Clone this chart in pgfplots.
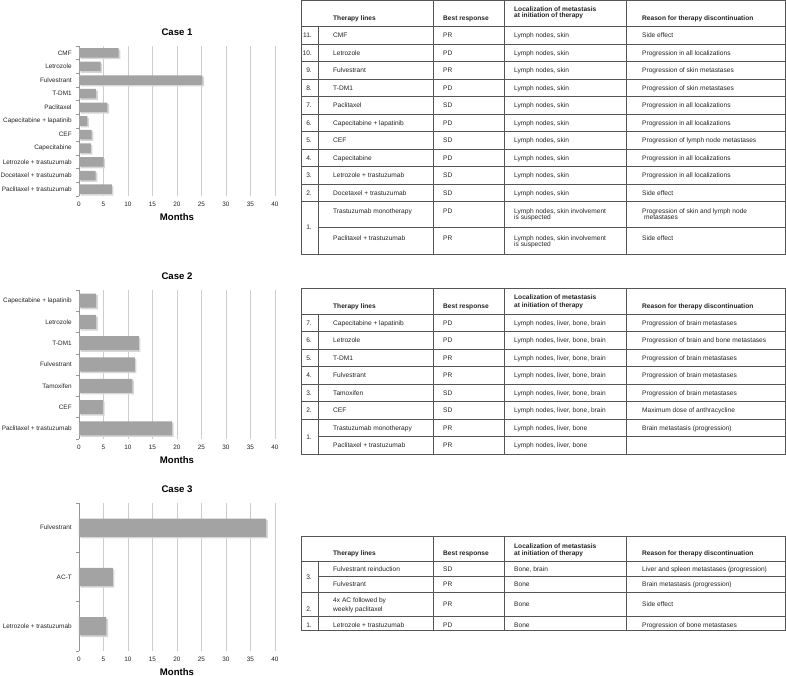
\documentclass[border=0pt]{standalone}
\usepackage{fontspec}
\setmainfont{Liberation Sans}
\usepackage{pgfplots}
\pgfplotsset{compat=1.18}
\definecolor{barc}{RGB}{163,163,163}
\definecolor{shc}{RGB}{214,214,214}
\definecolor{gridc}{RGB}{205,205,205}
\definecolor{axc}{RGB}{150,150,150}
\definecolor{tlc}{RGB}{85,85,85}
\definecolor{txc}{RGB}{35,35,35}
\newcommand{\tf}{\fontsize{6.6}{7.5}\selectfont}
\newcommand{\hf}{\bfseries\fontsize{6.6}{7.5}\selectfont}
\newcommand{\cellL}[3]{\node[anchor=base west,inner sep=0pt,font=\tf,text=txc] at (#1,{#2+2.4}) {#3};}
\newcommand{\cellH}[3]{\node[anchor=base west,inner sep=0pt,font=\hf,text=txc] at (#1,{#2+2.4}) {#3};}
\newcommand{\cellN}[2]{\node[anchor=base east,inner sep=0pt,font=\tf,text=txc] at (312,{#1+2.4}) {#2};}
\pgfplotsset{casestyle/.style={
  scale only axis, width=196pt,
  xmin=0, xmax=40, xtick={0,5,...,40},
  /pgf/number format/assume math mode=true,
  axis x line*=bottom, axis y line*=left,
  x axis line style={draw=none},
  y axis line style={draw=axc, line width=0.6pt},
  xmajorgrids, major grid style={draw=gridc, line width=0.6pt},
  tick align=outside, major tick length=0pt, minor tick length=3pt,
  minor tick style={draw=axc, line width=0.6pt},
  ticklabel style={font=\fontsize{6.4}{7.5}\selectfont, text=txc},
  xticklabel style={yshift=-2.5pt},
  yticklabel style={xshift=-3.8pt},
  title style={font=\bfseries\fontsize{9.6}{11}\selectfont, at={(0.5,1)}, anchor=south, yshift=4.5pt, inner sep=0pt},
  xlabel={Months},
  xlabel style={font=\bfseries\fontsize{9.6}{11}\selectfont, at={(0.5,0)}, anchor=north, yshift=-17pt, inner sep=0pt},
  clip=false,
}}
\begin{document}
\begin{tikzpicture}
\path[use as bounding box] (0,0) rectangle (786pt,676pt);
% ---------------- Case 1
\begin{axis}[casestyle, at={(79pt,480pt)}, anchor=south west, height=150pt,
  ymin=-0.5, ymax=10.5, ytick={0,...,10},
  yticklabels={Paclitaxel + trastuzumab, Docetaxel + trastuzumab, Letrozole + trastuzumab, Capecitabine, CEF, Capecitabine + lapatinib, Paclitaxel, T-DM1, Fulvestrant, Letrozole, CMF},
  minor ytick={-0.5,0.5,...,10.5}, title={Case 1}]
\addplot[xbar, bar width=0.70, bar shift=0pt, fill=barc, draw=none,
  preaction={fill=shc, transform canvas={xshift=1.6pt,yshift=-1.6pt}}]
  coordinates {(6.7,0) (3.4,1) (5.0,2) (2.4,3) (2.6,4) (1.7,5) (5.8,6) (3.5,7) (25.2,8) (4.4,9) (8.1,10)};
\end{axis}
% ---------------- Case 2
\begin{axis}[casestyle, at={(79pt,237pt)}, anchor=south west, height=149pt,
  ymin=-0.5, ymax=6.5, ytick={0,...,6},
  yticklabels={Paclitaxel + trastuzumab, CEF, Tamoxifen, Fulvestrant, T-DM1, Letrozole, Capecitabine + lapatinib},
  minor ytick={-0.5,0.5,...,6.5}, title={Case 2}]
\addplot[xbar, bar width=0.66, bar shift=0pt, fill=barc, draw=none,
  preaction={fill=shc, transform canvas={xshift=1.6pt,yshift=-1.6pt}}]
  coordinates {(19.0,0) (4.9,1) (10.9,2) (11.4,3) (12.2,4) (3.5,5) (3.5,6)};
\end{axis}
% ---------------- Case 3
\begin{axis}[casestyle, at={(79pt,25pt)}, anchor=south west, height=148pt,
  ymin=-0.5, ymax=2.5, ytick={0,...,2},
  yticklabels={Letrozole + trastuzumab, AC-T, Fulvestrant},
  minor ytick={-0.5,0.5,...,2.5}, title={Case 3}]
\addplot[xbar, bar width=0.37, bar shift=0pt, fill=barc, draw=none,
  preaction={fill=shc, transform canvas={xshift=1.6pt,yshift=-1.6pt}}]
  coordinates {(5.6,0) (6.9,1) (38.2,2)};
\end{axis}
% ---------------- Tables
\begin{scope}[x=1pt,y=-1pt,shift={(0pt,676pt)}]
\tikzset{tl/.style={draw=tlc,line width=0.7pt}}
% Table 1
\draw[tl] (301,0.8) rectangle (785,254.3);
\foreach \yy in {26.7,44.2,61.7,79.2,96.7,114.2,131.7,149.2,166.7,184.2,201.7} {\draw[tl] (301,\yy) -- (785,\yy);}
\draw[tl] (318,227) -- (785,227);
\draw[tl] (318,26.7) -- (318,254.3);
\foreach \xx in {433,504,626} {\draw[tl] (\xx,0.8) -- (\xx,254.3);}
\cellH{333}{18.3}{Therapy lines}
\cellH{443}{18.3}{Best response}
\cellH{514}{9}{Localization of metastasis}
\cellH{514}{15.5}{at initiation of therapy}
\cellH{642}{18.3}{Reason for therapy discontinuation}
\foreach \nm/\ta/\tb/\tc/\td [count=\i from 0] in {
 11./CMF/PR/{Lymph nodes, skin}/Side effect,
 10./Letrozole/PD/{Lymph nodes, skin}/Progression in all localizations,
 9./Fulvestrant/PR/{Lymph nodes, skin}/Progression of skin metastases,
 8./T-DM1/PD/{Lymph nodes, skin}/Progression of skin metastases,
 7./Paclitaxel/SD/{Lymph nodes, skin}/Progression in all localizations,
 6./Capecitabine + lapatinib/PD/{Lymph nodes, skin}/Progression in all localizations,
 5./CEF/SD/{Lymph nodes, skin}/Progression of lymph node metastases,
 4./Capecitabine/PD/{Lymph nodes, skin}/Progression in all localizations,
 3./Letrozole + trastuzumab/SD/{Lymph nodes, skin}/Progression in all localizations,
 2./Docetaxel + trastuzumab/SD/{Lymph nodes, skin}/Side effect}
{\pgfmathsetmacro\yy{35.45+17.5*\i}
 \cellN{\yy}{\nm} \cellL{333}{\yy}{\ta} \cellL{443}{\yy}{\tb} \cellL{514}{\yy}{\tc} \cellL{642}{\yy}{\td}}
\cellN{227.3}{1.}
\cellL{333}{210.7}{Trastuzumab monotherapy}
\cellL{443}{210.7}{PD}
\cellL{514}{210.7}{Lymph nodes, skin involvement}
\cellL{514}{217.2}{is suspected}
\cellL{642}{210.7}{Progression of skin and lymph node}
\cellL{644}{217.2}{metastases}
\cellL{333}{237.7}{Paclitaxel + trastuzumab}
\cellL{443}{237.7}{PR}
\cellL{514}{237.7}{Lymph nodes, skin involvement}
\cellL{514}{244.2}{is suspected}
\cellL{642}{237.7}{Side effect}
% Table 2
\draw[tl] (301,288.3) rectangle (785,454.3);
\foreach \yy in {314.3,331.7,349.2,366.7,384.2,401.7,419.2} {\draw[tl] (301,\yy) -- (785,\yy);}
\draw[tl] (318,436.8) -- (785,436.8);
\draw[tl] (318,314.3) -- (318,454.3);
\foreach \xx in {433,504,626} {\draw[tl] (\xx,288.3) -- (\xx,454.3);}
\cellH{333}{306.3}{Therapy lines}
\cellH{443}{306.3}{Best response}
\cellH{514}{297.3}{Localization of metastasis}
\cellH{514}{304.7}{at initiation of therapy}
\cellH{642}{306.3}{Reason for therapy discontinuation}
\foreach \nm/\ta/\tb/\tc/\td [count=\i from 0] in {
 7./Capecitabine + lapatinib/PD/{Lymph nodes, liver, bone, brain}/Progression of brain metastases,
 6./Letrozole/PD/{Lymph nodes, liver, bone, brain}/Progression of brain and bone metastases,
 5./T-DM1/PR/{Lymph nodes, liver, bone, brain}/Progression of brain metastases,
 4./Fulvestrant/PR/{Lymph nodes, liver, bone, brain}/Progression of brain metastases,
 3./Tamoxifen/SD/{Lymph nodes, liver, bone, brain}/Progression of brain metastases,
 2./CEF/SD/{Lymph nodes, liver, bone, brain}/Maximum dose of anthracycline}
{\pgfmathsetmacro\yy{323+17.5*\i}
 \cellN{\yy}{\nm} \cellL{333}{\yy}{\ta} \cellL{443}{\yy}{\tb} \cellL{514}{\yy}{\tc} \cellL{642}{\yy}{\td}}
\cellN{436.8}{1.}
\cellL{333}{428}{Trastuzumab monotherapy}
\cellL{443}{428}{PR}
\cellL{514}{428}{Lymph nodes, liver, bone}
\cellL{642}{428}{Brain metastasis (progression)}
\cellL{333}{445.5}{Paclitaxel + trastuzumab}
\cellL{443}{445.5}{PR}
\cellL{514}{445.5}{Lymph nodes, liver, bone}
% Table 3
\draw[tl] (301,536.7) rectangle (785,630.7);
\foreach \yy in {561.7,592,616} {\draw[tl] (301,\yy) -- (785,\yy);}
\draw[tl] (318,576.7) -- (785,576.7);
\draw[tl] (318,561.7) -- (318,630.7);
\foreach \xx in {433,504,626} {\draw[tl] (\xx,536.7) -- (\xx,630.7);}
\cellH{333}{553}{Therapy lines}
\cellH{443}{553}{Best response}
\cellH{514}{545.7}{Localization of metastasis}
\cellH{514}{553}{at initiation of therapy}
\cellH{642}{553}{Reason for therapy discontinuation}
\cellN{576.7}{3.}
\cellL{333}{568.7}{Fulvestrant reinduction}
\cellL{443}{568.7}{SD}
\cellL{514}{568.7}{Bone, brain}
\cellL{642}{568.7}{Liver and spleen metastases (progression)}
\cellL{333}{583.7}{Fulvestrant}
\cellL{443}{583.7}{PR}
\cellL{514}{583.7}{Bone}
\cellL{642}{583.7}{Brain metastasis (progression)}
\cellN{609}{2.}
\cellL{333}{600}{4x AC followed by}
\cellL{333}{608.7}{weekly paclitaxel}
\cellL{443}{604}{PR}
\cellL{514}{604}{Bone}
\cellL{642}{604}{Side effect}
\cellN{624.7}{1.}
\cellL{333}{624.7}{Letrozole + trastuzumab}
\cellL{443}{624.7}{PD}
\cellL{514}{624.7}{Bone}
\cellL{642}{624.7}{Progression of bone metastases}
\end{scope}
\end{tikzpicture}
\end{document}
